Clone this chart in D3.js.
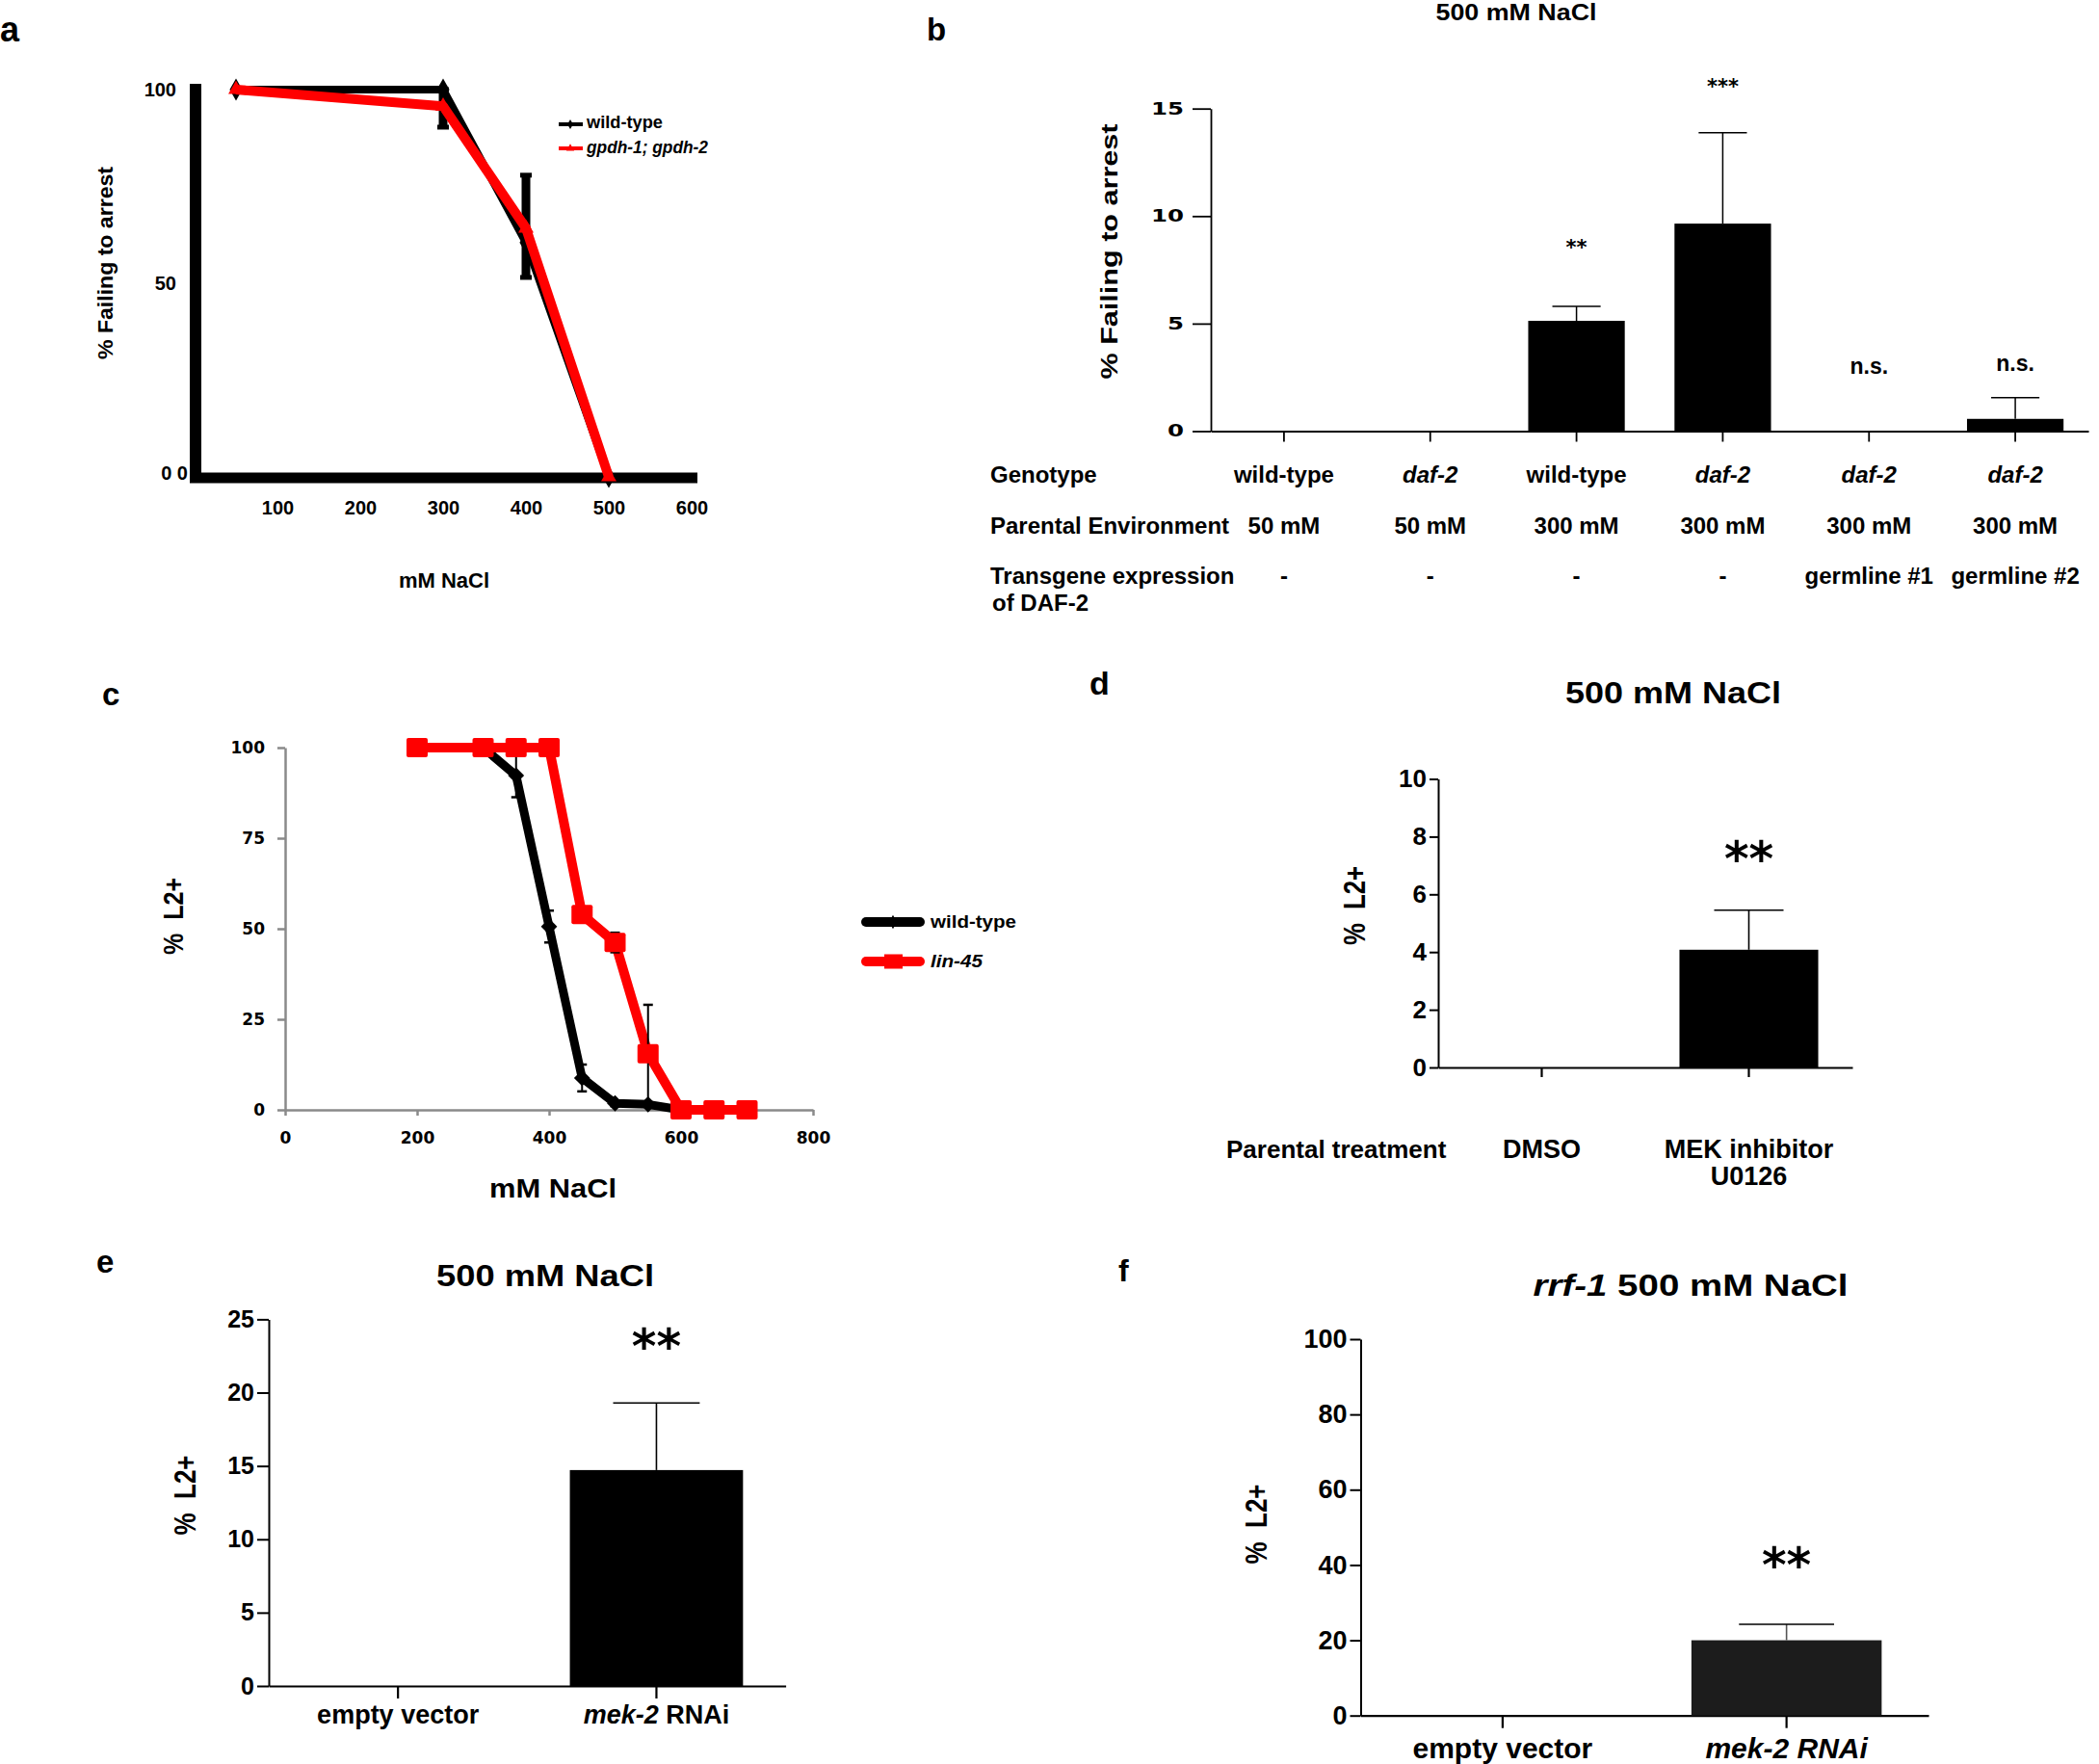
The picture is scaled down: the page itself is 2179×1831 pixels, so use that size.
<!DOCTYPE html>
<html><head><meta charset="utf-8">
<script src="https://cdn.jsdelivr.net/npm/d3@7"></script>
<style>
body{margin:0;background:#fff;}
svg{display:block; font-family:"Liberation Sans", Arial, sans-serif; font-weight:bold;}
text{white-space:pre;}
</style></head><body>
<svg id="chart" width="2179" height="1831"></svg>
<script>
// ---------------- DATA ----------------
// Panel a
const aDoses = [50, 300, 400, 500];
const aWildType = [100, 100, 60.5, 0];
const aWildLow = [100, 90.3, 51.5, 0];
const aWildHigh = [100, 100, 77.9, 0];
const aGpdh = [100, 95.7, 64.2, 0];
const aXTicks = [100, 200, 300, 400, 500, 600];
const aYTicks = [0, 50, 100];
const aLegend = ["wild-type", "gpdh-1; gpdh-2"];

// Panel b
const bGenotype = ["wild-type", "daf-2", "wild-type", "daf-2", "daf-2", "daf-2"];
const bGenotypeItalic = [false, true, false, true, true, true];
const bParental = ["50 mM", "50 mM", "300 mM", "300 mM", "300 mM", "300 mM"];
const bTransgene = ["-", "-", "-", "-", "germline #1", "germline #2"];
const bValues = [0, 0, 5.13, 9.65, 0, 0.57];
const bErrors = [0, 0, 0.67, 4.23, 0, 0.99];
const bSig = ["", "", "**", "***", "n.s.", "n.s."];
const bSigAt = [0, 0, 8.2, 15.7, 2.67, 2.8];
const bYTicks = [0, 5, 10, 15];
const bRowHeads = ["Genotype", "Parental Environment", "Transgene expression", "of DAF-2"];

// Panel c
const cWildDoses = [300, 350, 400, 450, 500, 550, 600, 650, 700];
const cWildType = [100, 92.3, 50.6, 8.8, 1.8, 1.5, 0, 0, 0];
const cWildErr = [0, 6, 4.4, 3.7, 0.8, 0.5, 0, 0, 0];
const cLinDoses = [200, 300, 350, 400, 450, 500, 550, 600, 650, 700];
const cLin45 = [100, 100, 100, 100, 53.9, 46.2, 15.5, 0, 0, 0];
const cLinErr = [0, 0, 0, 0, 0, 2.7, 13.5, 0, 0, 0];
const cXTicks = [0, 200, 400, 600, 800];
const cYTicks = [0, 25, 50, 75, 100];
const cLegend = ["wild-type", "lin-45"];

// Panel d
const dCatLines = [["DMSO"], ["MEK inhibitor", "U0126"]];
const dValues = [0, 4.08];
const dErrors = [0, 1.37];
const dSig = ["", "**"];
const dSigAt = [0, 6.63];
const dYTicks = [0, 2, 4, 6, 8, 10];

// Panel e
const eCats = ["empty vector", "mek-2 RNAi"];
const eValues = [0, 14.72];
const eErrors = [0, 4.58];
const eSig = ["", "**"];
const eSigAt = [0, 22.0];
const eYTicks = [0, 5, 10, 15, 20, 25];

// Panel f
const fCats = ["empty vector", "mek-2 RNAi"];
const fValues = [0, 20.0];
const fErrors = [0, 4.25];
const fSig = ["", "**"];
const fSigAt = [0, 35.5];
const fYTicks = [0, 20, 40, 60, 80, 100];

// ---------------- HELPERS ----------------
const SANS = '"Liberation Sans", Arial, sans-serif';
const WIDE = '"DejaVu Sans", Verdana, sans-serif';
const svg = d3.select("#chart");
svg.append("rect").attr("width", 2179).attr("height", 1831).attr("fill", "#fff");

function txt(g, s, x, y, o = {}) {
  const t = g.append("text").attr("x", x).attr("y", y).text(s)
    .attr("font-size", o.size || 20).attr("text-anchor", o.anchor || "start")
    .attr("font-family", o.family || SANS).attr("font-weight", "bold").attr("fill", "#000");
  if (o.italic) t.attr("font-style", "italic");
  if (o.len) t.attr("textLength", o.len).attr("lengthAdjust", "spacingAndGlyphs");
  if (o.rotate) t.attr("transform", `rotate(-90,${x},${y})`).attr("dominant-baseline", "central");
  return t;
}
function styleAxis(g, size, family, color) {
  g.attr("font-size", size).attr("font-family", family).attr("font-weight", "bold");
  g.selectAll("text").attr("fill", "#000");
  g.selectAll("line,path").attr("stroke", color || "#000");
}

// Panel letters
[["a", 0, 43, 36], ["b", 962, 42, 33], ["c", 106, 732, 33], ["d", 1131, 721, 34], ["e", 100, 1321, 33], ["f", 1161, 1330, 32]]
  .forEach(([l, x, y, s]) => txt(svg, l, x, y, { size: s }));

// ---------------- PANEL A ----------------
(function () {
  const g = svg.append("g");
  const x = d3.scaleLinear().domain([0, 600]).range([202, 718]);
  const y = d3.scaleLinear().domain([0, 100]).range([495, 93]);
  g.append("line").attr("x1", 203).attr("x2", 203).attr("y1", y(100) - 6).attr("y2", y(0) + 6)
    .attr("stroke", "#000").attr("stroke-width", 12);
  g.append("line").attr("x1", 197).attr("x2", x(600) + 6).attr("y1", y(0) + 1).attr("y2", y(0) + 1)
    .attr("stroke", "#000").attr("stroke-width", 11);
  const ya = g.append("g").attr("transform", "translate(203,0)")
    .call(d3.axisLeft(y).tickValues(aYTicks).tickSize(0).tickPadding(20).tickFormat(d => d === 0 ? "0 0" : d));
  ya.select(".domain").remove();
  styleAxis(ya, 20, SANS);
  ya.selectAll("text").filter(d => d === 0).attr("x", -8).attr("dy", "0.1em");
  const xa = g.append("g").attr("transform", `translate(0,${y(0) + 1})`)
    .call(d3.axisBottom(x).tickValues(aXTicks).tickSize(0).tickPadding(24));
  xa.select(".domain").remove();
  styleAxis(xa, 20, SANS);

  const line = d3.line().x((d, i) => x(aDoses[i])).y(d => y(d));
  g.append("path").attr("d", line(aWildType)).attr("fill", "none").attr("stroke", "#000")
    .attr("stroke-width", 8).attr("stroke-linejoin", "round");
  aDoses.forEach((dose, i) => {
    if (aWildHigh[i] - aWildLow[i] > 0.5) {
      g.append("line").attr("x1", x(dose)).attr("x2", x(dose)).attr("y1", y(aWildLow[i])).attr("y2", y(aWildHigh[i]))
        .attr("stroke", "#000").attr("stroke-width", 9);
      [aWildLow[i], aWildHigh[i]].forEach(v => g.append("line").attr("x1", x(dose) - 6).attr("x2", x(dose) + 6)
        .attr("y1", y(v)).attr("y2", y(v)).attr("stroke", "#000").attr("stroke-width", 5));
    }
  });
  const dia = d3.symbol().type(d3.symbolDiamond).size(150);
  aDoses.forEach((dose, i) => g.append("path").attr("d", dia()).attr("transform", `translate(${x(dose)},${y(aWildType[i])})`).attr("fill", "#000"));
  g.append("path").attr("d", line(aGpdh)).attr("fill", "none").attr("stroke", "#f00")
    .attr("stroke-width", 10).attr("stroke-linejoin", "round");
  const tri = d3.symbol().type(d3.symbolTriangle).size(110);
  aDoses.forEach((dose, i) => g.append("path").attr("d", tri()).attr("transform", `translate(${x(dose)},${y(aGpdh[i])})`).attr("fill", "#f00"));

  const lg = [[129, "#000", false], [154, "#f00", true]];
  lg.forEach(([ly, col, it], i) => {
    g.append("line").attr("x1", 580).attr("x2", 605).attr("y1", ly).attr("y2", ly).attr("stroke", col).attr("stroke-width", 4);
    g.append("path").attr("d", d3.symbol().type(i ? d3.symbolTriangle : d3.symbolDiamond).size(30)())
      .attr("transform", `translate(592,${ly})`).attr("fill", col);
    txt(g, aLegend[i], 609, ly + 4 + i * 1, { size: 18, italic: it, len: i ? 126 : 79 });
  });
  txt(g, "% Failing to arrest", 109, 273, { size: 22, anchor: "middle", rotate: true, len: 200 });
  txt(g, "mM NaCl", 461, 610, { size: 22, anchor: "middle" });
})();

// ---------------- PANEL B ----------------
(function () {
  const g = svg.append("g");
  const idx = d3.range(bValues.length);
  const x = d3.scaleBand().domain(idx).range([1257, 2168]).paddingInner(0.34).paddingOuter(0.17);
  const y = d3.scaleLinear().domain([0, 15]).range([447.5, 112.7]);
  const ya = g.append("g").attr("transform", "translate(1257,0)")
    .call(d3.axisLeft(y).tickValues(bYTicks).tickSize(19).tickPadding(9).tickSizeOuter(0));
  styleAxis(ya, 17, WIDE);
  ya.selectAll("path,line").attr("stroke-width", 1.8);
  ya.selectAll("text").attr("textLength", d => String(d).length * 17).attr("lengthAdjust", "spacingAndGlyphs");
  const xa = g.append("g").attr("transform", "translate(0,447.5)")
    .call(d3.axisBottom(x).tickSize(11).tickSizeOuter(0).tickFormat(""));
  styleAxis(xa, 10, SANS);
  xa.selectAll("path,line").attr("stroke-width", 1.8);

  const bw = x.bandwidth();
  idx.forEach(i => {
    const cx = x(i) + bw / 2;
    if (bValues[i] > 0) {
      g.append("rect").attr("x", x(i)).attr("width", bw).attr("y", y(bValues[i]))
        .attr("height", y(0) - y(bValues[i])).attr("fill", "#000");
      const top = y(bValues[i] + bErrors[i]);
      g.append("line").attr("x1", cx).attr("x2", cx).attr("y1", y(bValues[i])).attr("y2", top).attr("stroke", "#000").attr("stroke-width", 1.5);
      g.append("line").attr("x1", cx - bw / 4).attr("x2", cx + bw / 4).attr("y1", top).attr("y2", top).attr("stroke", "#000").attr("stroke-width", 1.5);
    }
    if (bSig[i]) {
      const isStar = bSig[i].startsWith("*");
      txt(g, bSig[i], cx, y(bSigAt[i]), { size: isStar ? 21 : 23, anchor: "middle", family: isStar ? WIDE : SANS });
    }
    txt(g, bGenotype[i], cx, 501, { size: 24, anchor: "middle", italic: bGenotypeItalic[i] });
    txt(g, bParental[i], cx, 554, { size: 24, anchor: "middle" });
    txt(g, bTransgene[i], cx, 606, { size: 24, anchor: "middle" });
  });
  [[1028, 501], [1028, 554], [1028, 606], [1030, 634]].forEach(([hx, hy], i) => txt(g, bRowHeads[i], hx, hy, { size: 24 }));
  txt(g, "500 mM NaCl", 1574, 21, { size: 24, anchor: "middle", len: 167 });
  txt(g, "% Failing to arrest", 1151, 261, { size: 24, anchor: "middle", rotate: true, len: 265 });
})();

// ---------------- PANEL C ----------------
(function () {
  const g = svg.append("g");
  const x = d3.scaleLinear().domain([0, 800]).range([296, 844]);
  const y = d3.scaleLinear().domain([0, 100]).range([1152, 776]);
  const grey = "#8a8a8a";
  const ya = g.append("g").attr("transform", "translate(296,0)")
    .call(d3.axisLeft(y).tickValues(cYTicks).tickSize(8).tickPadding(13).tickSizeOuter(0));
  styleAxis(ya, 17, WIDE, grey);
  ya.selectAll("path,line").attr("stroke-width", 2.5);
  const xa = g.append("g").attr("transform", "translate(0,1152)")
    .call(d3.axisBottom(x).tickValues(cXTicks).tickSize(6).tickPadding(17).tickSizeOuter(0));
  styleAxis(xa, 17, WIDE, grey);
  xa.selectAll("path,line").attr("stroke-width", 2.5);

  const lineW = d3.line().x((d, i) => x(cWildDoses[i])).y(d => y(d));
  const lineL = d3.line().x((d, i) => x(cLinDoses[i])).y(d => y(d));
  g.append("path").attr("d", lineW(cWildType)).attr("fill", "none").attr("stroke", "#000")
    .attr("stroke-width", 9).attr("stroke-linejoin", "round");
  const errBar = (dx, v, e) => {
    if (e <= 0) return;
    const cx = x(dx);
    g.append("line").attr("x1", cx).attr("x2", cx).attr("y1", y(v - e)).attr("y2", y(v + e)).attr("stroke", "#000").attr("stroke-width", 2);
    [v - e, v + e].forEach(b => g.append("line").attr("x1", cx - 5).attr("x2", cx + 5).attr("y1", y(b)).attr("y2", y(b)).attr("stroke", "#000").attr("stroke-width", 2.5));
  };
  cWildDoses.forEach((dx, i) => errBar(dx, cWildType[i], cWildErr[i]));
  const dia = d3.symbol().type(d3.symbolDiamond2 || d3.symbolDiamond).size(180);
  cWildDoses.forEach((dx, i) => g.append("path").attr("d", dia()).attr("transform", `translate(${x(dx)},${y(cWildType[i])})`).attr("fill", "#000"));
  g.append("path").attr("d", lineL(cLin45)).attr("fill", "none").attr("stroke", "#f00")
    .attr("stroke-width", 10).attr("stroke-linejoin", "round");
  cLinDoses.forEach((dx, i) => errBar(dx, cLin45[i], cLinErr[i]));
  cLinDoses.forEach((dx, i) => g.append("rect").attr("x", x(dx) - 11).attr("y", y(cLin45[i]) - 10)
    .attr("width", 22).attr("height", 20).attr("rx", 2).attr("fill", "#f00"));

  g.append("line").attr("x1", 899).attr("x2", 955).attr("y1", 957).attr("y2", 957).attr("stroke", "#000").attr("stroke-width", 10).attr("stroke-linecap", "round");
  g.append("path").attr("d", d3.symbol().type(d3.symbolDiamond).size(60)()).attr("transform", "translate(927,957)").attr("fill", "#000");
  g.append("line").attr("x1", 899).attr("x2", 955).attr("y1", 998).attr("y2", 998).attr("stroke", "#f00").attr("stroke-width", 10).attr("stroke-linecap", "round");
  g.append("rect").attr("x", 918).attr("y", 990.5).attr("width", 19).attr("height", 15).attr("fill", "#f00");
  txt(g, cLegend[0], 966, 963, { size: 19, len: 89 });
  txt(g, cLegend[1], 966, 1004, { size: 19, italic: true, len: 54 });

  txt(g, "%\u00a0 L2+", 179, 951, { size: 30, anchor: "middle", rotate: true, len: 80 });
  txt(g, "mM NaCl", 574, 1243, { size: 27, anchor: "middle", len: 132 });
})();

// ---------------- GENERIC BAR PANEL (d, e, f) ----------------
function barPanel(o) {
  const g = svg.append("g");
  const idx = d3.range(o.values.length);
  const x = d3.scaleBand().domain(idx).range([o.x0, o.x1]).paddingInner(0.33).paddingOuter(0.165);
  const y = d3.scaleLinear().domain([0, o.max]).range([o.y0, o.y1]);
  const ya = g.append("g").attr("transform", `translate(${o.x0},0)`)
    .call(d3.axisLeft(y).tickValues(o.ticks).tickSize(o.tickSize).tickPadding(o.tickPad).tickSizeOuter(0));
  styleAxis(ya, o.tickFont, SANS);
  ya.selectAll("path,line").attr("stroke-width", 2);
  const xa = g.append("g").attr("transform", `translate(0,${o.y0})`)
    .call(d3.axisBottom(x).tickSize(o.catTick).tickSizeOuter(0).tickFormat(""));
  styleAxis(xa, 10, SANS);
  xa.selectAll("path,line").attr("stroke-width", 2.2);
  const bw = x.bandwidth();
  idx.forEach(i => {
    const cx = x(i) + bw / 2;
    if (o.values[i] > 0) {
      g.append("rect").attr("x", x(i)).attr("width", bw).attr("y", y(o.values[i]))
        .attr("height", y(0) - y(o.values[i])).attr("fill", o.fill || "#000");
      const top = y(o.values[i] + o.errors[i]);
      g.append("line").attr("x1", cx).attr("x2", cx).attr("y1", y(o.values[i])).attr("y2", top).attr("stroke", o.errColor || "#000").attr("stroke-width", 1.6);
      g.append("line").attr("x1", cx - bw / 4).attr("x2", cx + bw / 4).attr("y1", top).attr("y2", top).attr("stroke", "#000").attr("stroke-width", 1.6);
    }
    if (o.sig[i]) txt(g, o.sig[i], cx, y(o.sigAt[i]), { size: 49, anchor: "middle", family: WIDE });
  });
  return { g, x, y, bw };
}

// ---------------- PANEL D ----------------
(function () {
  const p = barPanel({ values: dValues, errors: dErrors, sig: dSig, sigAt: dSigAt, x0: 1493, x1: 1923, y0: 1108, y1: 808.5,
    max: 10, ticks: dYTicks, tickSize: 9, tickPad: 3, tickFont: 26, catTick: 10 });
  dCatLines.forEach((lines, i) => lines.forEach((l, j) =>
    txt(p.g, l, p.x(i) + p.bw / 2, 1202 + j * 28, { size: 27, anchor: "middle" })));
  txt(p.g, "Parental treatment", 1273, 1202, { size: 26 });
  txt(p.g, "500 mM NaCl", 1737, 730, { size: 31, anchor: "middle", len: 224 });
  txt(p.g, "%\u00a0 L2+", 1406, 940, { size: 31, anchor: "middle", rotate: true, len: 82 });
})();

// ---------------- PANEL E ----------------
(function () {
  const p = barPanel({ values: eValues, errors: eErrors, sig: eSig, sigAt: eSigAt, x0: 279, x1: 815.6, y0: 1750, y1: 1369.4,
    max: 25, ticks: eYTicks, tickSize: 12, tickPad: 3, tickFont: 25, catTick: 13 });
  eCats.forEach((c, i) => {
    const t = p.g.append("text").attr("x", p.x(i) + p.bw / 2).attr("y", 1789).attr("font-size", 27)
      .attr("text-anchor", "middle").attr("font-family", SANS).attr("fill", "#000");
    if (c.startsWith("mek-2")) {
      t.append("tspan").attr("font-style", "italic").text("mek-2");
      t.append("tspan").text(c.slice(5));
    } else t.text(c);
  });
  txt(p.g, "500 mM NaCl", 566, 1335, { size: 31, anchor: "middle", len: 226 });
  txt(p.g, "%\u00a0 L2+", 192, 1552, { size: 31, anchor: "middle", rotate: true, len: 83 });
})();

// ---------------- PANEL F ----------------
(function () {
  const p = barPanel({ values: fValues, errors: fErrors, sig: fSig, sigAt: fSigAt, x0: 1412.5, x1: 2002, y0: 1780.7, y1: 1390,
    max: 100, ticks: fYTicks, tickSize: 11, tickPad: 3, tickFont: 27, catTick: 13, fill: "#1c1c1c", errColor: "#555" });
  fCats.forEach((c, i) => txt(p.g, c, p.x(i) + p.bw / 2, 1825, { size: 30, anchor: "middle", italic: c.startsWith("mek-2") }));
  const t = p.g.append("text").attr("x", 1755).attr("y", 1345).attr("font-size", 31).attr("text-anchor", "middle")
    .attr("font-family", SANS).attr("fill", "#000")
    .attr("textLength", 327).attr("lengthAdjust", "spacingAndGlyphs");
  t.append("tspan").attr("font-style", "italic").text("rrf-1");
  t.append("tspan").text(" 500 mM NaCl");
  txt(p.g, "%\u00a0 L2+", 1304, 1582, { size: 31, anchor: "middle", rotate: true, len: 83 });
})();
</script></body></html>
